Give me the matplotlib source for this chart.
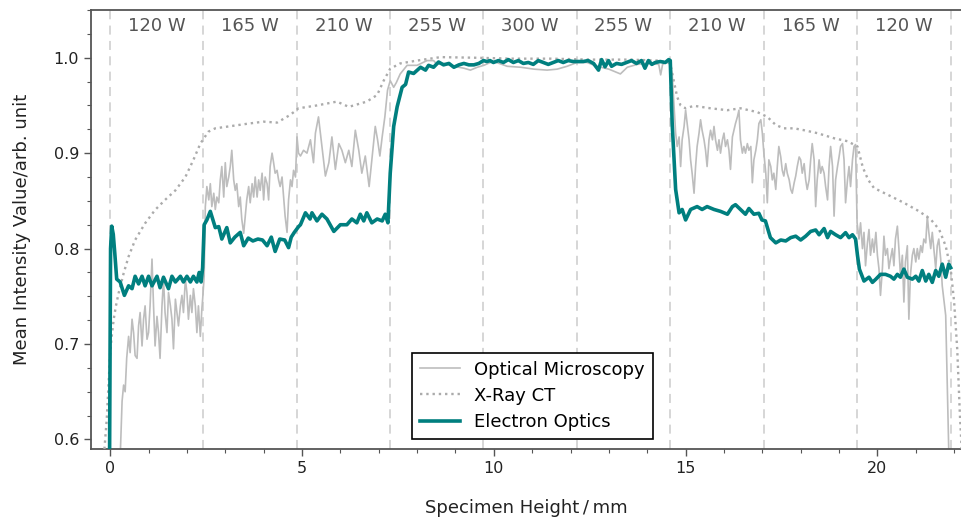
import numpy as np
import matplotlib
matplotlib.use("Agg")
import matplotlib.pyplot as plt
from matplotlib.ticker import MultipleLocator

# ---------------- data ----------------
eo_x = [-0.02, 0.01, 0.04, 0.08, 0.12, 0.17, 0.26, 0.37, 0.48, 0.57, 0.65, 0.74, 0.83, 0.91, 1.00,
        1.09, 1.22, 1.30, 1.39, 1.52, 1.61, 1.70, 1.83, 1.91, 2.00, 2.09, 2.17, 2.26, 2.32, 2.37,
        2.41, 2.45, 2.52, 2.61, 2.74, 2.83, 2.91, 3.04, 3.13, 3.25, 3.39, 3.48, 3.60, 3.72, 3.85,
        3.97, 4.09, 4.20, 4.30, 4.42, 4.55, 4.65, 4.72, 4.80, 4.91, 4.96, 5.09, 5.21, 5.26, 5.39,
        5.52, 5.65, 5.83, 6.00, 6.17, 6.30, 6.43, 6.52, 6.61, 6.69, 6.82, 6.96, 7.09, 7.17, 7.24,
        7.30, 7.39, 7.48, 7.61, 7.70, 7.78, 7.91, 8.09, 8.22, 8.30, 8.43, 8.56, 8.69, 8.83, 8.96,
        9.09, 9.22, 9.35, 9.48, 9.61, 9.73, 9.82, 9.90, 9.99, 10.12, 10.25, 10.38, 10.51, 10.64,
        10.77, 10.90, 11.03, 11.16, 11.29, 11.42, 11.55, 11.68, 11.81, 11.94, 12.07, 12.20, 12.33,
        12.46, 12.60, 12.73, 12.81, 12.90, 12.99, 13.07, 13.20, 13.33, 13.46, 13.59, 13.72, 13.85,
        13.94, 14.03, 14.12, 14.21, 14.34, 14.47, 14.56, 14.60, 14.65, 14.74, 14.83, 14.91, 15.00,
        15.13, 15.30, 15.43, 15.56, 15.74, 15.91, 16.09, 16.22, 16.30, 16.43, 16.56, 16.65, 16.78,
        16.91, 16.99, 17.08, 17.21, 17.35, 17.48, 17.61, 17.74, 17.87, 18.00, 18.13, 18.26, 18.39,
        18.48, 18.61, 18.70, 18.78, 18.91, 19.04, 19.17, 19.26, 19.35, 19.43, 19.48, 19.53, 19.65,
        19.78, 19.87, 19.96, 20.08, 20.21, 20.34, 20.43, 20.52, 20.60, 20.69, 20.78, 20.91, 21.00,
        21.08, 21.17, 21.26, 21.34, 21.43, 21.52, 21.60, 21.69, 21.78, 21.86, 21.91]
eo_y = [0.550, 0.800, 0.8235, 0.815, 0.795, 0.768, 0.765, 0.751, 0.761, 0.758, 0.771, 0.763, 0.771, 0.761, 0.771,
        0.761, 0.771, 0.759, 0.770, 0.758, 0.771, 0.765, 0.771, 0.765, 0.771, 0.765, 0.771, 0.765, 0.775, 0.765,
        0.780, 0.825, 0.830, 0.839, 0.822, 0.823, 0.810, 0.822, 0.806, 0.812, 0.817, 0.803, 0.811, 0.808, 0.810,
        0.809, 0.803, 0.812, 0.797, 0.810, 0.809, 0.801, 0.812, 0.817, 0.823, 0.825, 0.8375, 0.831, 0.8375, 0.829,
        0.836, 0.831, 0.818, 0.825, 0.825, 0.831, 0.827, 0.836, 0.829, 0.8375, 0.827, 0.831, 0.829, 0.836, 0.827,
        0.879, 0.928, 0.9485, 0.969, 0.972, 0.985, 0.9835, 0.990, 0.987, 0.992, 0.990, 0.9955, 0.9925, 0.994, 0.990,
        0.9925, 0.994, 0.9925, 0.9925, 0.994, 0.997, 0.996, 0.997, 0.995, 0.997, 0.995, 0.998, 0.995, 0.997,
        0.994, 0.995, 0.993, 0.997, 0.995, 0.993, 0.995, 0.997, 0.995, 0.997, 0.996, 0.996, 0.996,
        0.997, 0.994, 0.987, 0.998, 0.9905, 0.997, 0.991, 0.994, 0.993, 0.995, 0.997, 0.994, 0.997,
        0.989, 0.997, 0.993, 0.995, 0.996, 0.995, 0.998, 0.997, 0.931, 0.862, 0.8375, 0.841, 0.830,
        0.841, 0.844, 0.841, 0.844, 0.841, 0.839, 0.836, 0.844, 0.846, 0.841, 0.836, 0.842, 0.836,
        0.837, 0.830, 0.829, 0.8115, 0.806, 0.809, 0.808, 0.8115, 0.813, 0.809, 0.813, 0.818, 0.8195,
        0.8145, 0.821, 0.8115, 0.818, 0.8145, 0.8115, 0.8167, 0.8115, 0.8145, 0.810, 0.793, 0.7785, 0.766,
        0.770, 0.7646, 0.768, 0.773, 0.773, 0.771, 0.768, 0.773, 0.770, 0.7785, 0.770, 0.768, 0.771,
        0.766, 0.777, 0.766, 0.773, 0.7646, 0.777, 0.771, 0.7837, 0.770, 0.7837, 0.780]

om_x = [0.26, 0.31, 0.35, 0.39, 0.43, 0.48, 0.52, 0.57, 0.61, 0.65, 0.70, 0.74, 0.78, 0.83, 0.87,
        0.91, 0.96, 1.00, 1.04, 1.09, 1.13, 1.17, 1.22, 1.26, 1.30, 1.35, 1.39, 1.43, 1.48, 1.52,
        1.57, 1.61, 1.65, 1.70, 1.74, 1.78, 1.83, 1.87, 1.91, 1.96, 2.00, 2.04, 2.09, 2.13, 2.17,
        2.22, 2.26, 2.30, 2.35, 2.39, 2.41, 2.45, 2.48, 2.52, 2.57, 2.61, 2.65, 2.70, 2.74, 2.78,
        2.83, 2.87, 2.91, 2.96, 3.00, 3.04, 3.09, 3.13, 3.17, 3.22, 3.26, 3.30, 3.35, 3.39, 3.43,
        3.48, 3.52, 3.56, 3.61, 3.65, 3.70, 3.74, 3.78, 3.83, 3.87, 3.91, 3.96, 4.00, 4.04, 4.09,
        4.13, 4.17, 4.22, 4.26, 4.30, 4.35, 4.39, 4.43, 4.48, 4.52, 4.56, 4.61, 4.65, 4.70, 4.74,
        4.78, 4.83, 4.87, 4.91, 4.96, 5.04, 5.13, 5.22, 5.30, 5.35, 5.43, 5.52, 5.61, 5.70, 5.78,
        5.87, 5.96, 6.04, 6.13, 6.22, 6.30, 6.39, 6.48, 6.56, 6.65, 6.75, 6.83, 6.91, 6.97, 7.03,
        7.09, 7.16, 7.23, 7.30, 7.39, 7.46, 7.56, 7.74, 8.00, 8.26, 8.43, 8.52, 8.70, 8.96, 9.22,
        9.39, 9.57, 9.74, 9.91, 10.00, 10.35, 10.70, 11.05, 11.39, 11.65, 11.91, 12.17, 12.43, 12.69,
        13.00, 13.30, 13.48, 13.74, 14.00, 14.30, 14.35, 14.40, 14.56, 14.60, 14.65, 14.74, 14.78,
        14.83, 14.87, 14.91, 14.96, 15.00, 15.04, 15.09, 15.13, 15.17, 15.22, 15.26, 15.30, 15.35,
        15.39, 15.43, 15.48, 15.52, 15.56, 15.61, 15.65, 15.70, 15.74, 15.78, 15.83, 15.87, 15.91,
        15.96, 16.00, 16.04, 16.09, 16.13, 16.17, 16.22, 16.26, 16.30, 16.35, 16.39, 16.43, 16.48,
        16.52, 16.56, 16.61, 16.65, 16.70, 16.74, 16.78, 16.83, 16.87, 16.91, 16.96, 17.00, 17.04,
        17.09, 17.13, 17.17, 17.22, 17.26, 17.30, 17.35, 17.39, 17.43, 17.48, 17.52, 17.56, 17.61,
        17.65, 17.70, 17.74, 17.78, 17.83, 17.87, 17.91, 17.96, 18.00, 18.04, 18.09, 18.13, 18.17,
        18.22, 18.26, 18.30, 18.35, 18.39, 18.43, 18.48, 18.52, 18.56, 18.61, 18.65, 18.70, 18.74,
        18.78, 18.83, 18.87, 18.91, 18.96, 19.00, 19.04, 19.09, 19.13, 19.17, 19.22, 19.26, 19.30,
        19.35, 19.39, 19.43, 19.47, 19.52, 19.56, 19.61, 19.65, 19.69, 19.74, 19.78, 19.82, 19.87,
        19.91, 19.96, 20.00, 20.04, 20.08, 20.13, 20.17, 20.21, 20.26, 20.30, 20.34, 20.39, 20.43,
        20.47, 20.52, 20.56, 20.60, 20.65, 20.69, 20.73, 20.78, 20.82, 20.86, 20.91, 20.95, 21.00,
        21.04, 21.08, 21.13, 21.17, 21.21, 21.26, 21.30, 21.34, 21.39, 21.43, 21.47, 21.52, 21.56,
        21.60, 21.65, 21.69, 21.73, 21.78, 21.82, 21.87]
om_y = [0.580, 0.640, 0.657, 0.650, 0.685, 0.708, 0.691, 0.726, 0.712, 0.688, 0.685, 0.719, 0.733, 0.698, 0.726,
        0.740, 0.705, 0.712, 0.740, 0.789, 0.740, 0.698, 0.729, 0.712, 0.685, 0.740, 0.768, 0.733, 0.712, 0.754,
        0.740, 0.726, 0.695, 0.747, 0.733, 0.719, 0.740, 0.751, 0.733, 0.768, 0.754, 0.726, 0.751, 0.733, 0.758,
        0.740, 0.712, 0.740, 0.708, 0.737, 0.747, 0.771, 0.844, 0.865, 0.851, 0.868, 0.844, 0.858, 0.841, 0.854,
        0.848, 0.872, 0.886, 0.854, 0.890, 0.865, 0.875, 0.886, 0.903, 0.872, 0.861, 0.868, 0.844, 0.854, 0.831,
        0.816, 0.834, 0.851, 0.865, 0.848, 0.868, 0.854, 0.875, 0.854, 0.872, 0.861, 0.879, 0.851, 0.875, 0.868,
        0.851, 0.886, 0.900, 0.890, 0.879, 0.882, 0.872, 0.865, 0.875, 0.854, 0.834, 0.817, 0.851, 0.872, 0.865,
        0.882, 0.875, 0.917, 0.900, 0.897, 0.903, 0.900, 0.914, 0.890, 0.921, 0.938, 0.907, 0.876, 0.890, 0.917,
        0.883, 0.910, 0.903, 0.890, 0.903, 0.886, 0.924, 0.903, 0.879, 0.897, 0.865, 0.897, 0.928, 0.914, 0.897,
        0.917, 0.938, 0.966, 0.976, 0.969, 0.974, 0.983, 0.992, 0.992, 0.997, 0.997, 0.993, 0.994, 0.991, 0.989,
        0.987, 0.990, 0.992, 0.995, 0.996, 0.991, 0.990, 0.988, 0.987, 0.988, 0.991, 0.995, 0.995, 0.991,
        0.988, 0.983, 0.990, 0.993, 0.994, 0.993, 0.982, 0.993, 0.997, 0.994, 0.983, 0.921, 0.907,
        0.917, 0.886, 0.914, 0.928, 0.945, 0.931, 0.914, 0.893, 0.879, 0.858, 0.886, 0.907, 0.921,
        0.935, 0.924, 0.914, 0.903, 0.886, 0.914, 0.924, 0.914, 0.928, 0.914, 0.903, 0.914, 0.900,
        0.914, 0.921, 0.907, 0.914, 0.903, 0.883, 0.917, 0.924, 0.931, 0.938, 0.945, 0.914, 0.900,
        0.907, 0.900, 0.910, 0.903, 0.907, 0.869, 0.893, 0.903, 0.914, 0.931, 0.935, 0.921, 0.900,
        0.879, 0.848, 0.893, 0.886, 0.872, 0.879, 0.862, 0.886, 0.907, 0.896, 0.882, 0.876, 0.889,
        0.879, 0.872, 0.862, 0.858, 0.869, 0.876, 0.886, 0.896, 0.893, 0.879, 0.889, 0.872, 0.862,
        0.872, 0.893, 0.910, 0.893, 0.844, 0.872, 0.893, 0.879, 0.886, 0.879, 0.865, 0.851, 0.886,
        0.907, 0.886, 0.834, 0.872, 0.886, 0.896, 0.907, 0.910, 0.893, 0.848, 0.872, 0.886, 0.865,
        0.893, 0.907, 0.909, 0.827, 0.810, 0.827, 0.800, 0.817, 0.782, 0.806, 0.820, 0.793, 0.810,
        0.796, 0.817, 0.793, 0.779, 0.751, 0.779, 0.813, 0.793, 0.800, 0.779, 0.789, 0.800, 0.782,
        0.810, 0.8235, 0.800, 0.772, 0.793, 0.744, 0.786, 0.803, 0.726, 0.772, 0.793, 0.800, 0.786,
        0.800, 0.789, 0.803, 0.796, 0.810, 0.806, 0.834, 0.817, 0.800, 0.817, 0.800, 0.779, 0.803,
        0.810, 0.789, 0.761, 0.747, 0.730, 0.660, 0.570]

ct_x = [-0.15, -0.09, -0.04, 0.00, 0.04, 0.09, 0.15, 0.22, 0.35, 0.48, 0.65, 0.91, 1.17, 1.43,
        1.70, 1.96, 2.17, 2.35, 2.56, 2.74, 3.09, 3.61, 4.00, 4.35, 4.69, 4.91, 5.39, 5.91, 6.22,
        6.69, 6.96, 7.13, 7.30, 7.56, 8.00, 8.61, 9.48, 10.5, 11.5, 12.5, 13.5, 14.3, 14.6, 14.69,
        14.78, 14.87, 15.00, 15.22, 15.65, 16.09, 16.43, 16.87, 17.13, 17.35, 17.56, 17.83, 18.09,
        18.43, 18.87, 19.22, 19.48, 19.62, 19.76, 19.91, 20.26, 20.69, 21.09, 21.39, 21.61, 21.78,
        21.91, 22.00, 22.08, 22.15, 22.21]
ct_y = [0.590, 0.621, 0.660, 0.691, 0.708, 0.7255, 0.740, 0.7534, 0.774, 0.7917, 0.809, 0.8265, 0.8405, 0.851,
        0.861, 0.875, 0.893, 0.910, 0.9225, 0.926, 0.928, 0.931, 0.933, 0.932, 0.940, 0.947, 0.950, 0.954, 0.9485,
        0.954, 0.961, 0.976, 0.9885, 0.994, 0.997, 1.0006, 1.000, 0.999, 0.999, 0.998, 0.998, 0.997, 0.994, 0.976,
        0.959, 0.950, 0.947, 0.9496, 0.947, 0.945, 0.947, 0.943, 0.938, 0.9295, 0.926, 0.926, 0.924,
        0.921, 0.9156, 0.9125, 0.907, 0.885, 0.872, 0.8635, 0.8566, 0.848, 0.839, 0.8306, 0.820, 0.8027,
        0.7785, 0.744, 0.695, 0.626, 0.580]

boundaries = [0.0, 2.43, 4.87, 7.30, 9.73, 12.16, 14.60, 17.04, 19.47, 21.91]
powers = ["120 W", "165 W", "210 W", "255 W", "300 W", "255 W", "210 W", "165 W", "120 W"]

# ---------------- plot ----------------
plt.rcParams['font.family'] = ['DejaVu Sans']
fig = plt.figure(figsize=(9.62, 5.2), dpi=100)
ax = fig.add_axes([0.0946, 0.1365, 0.9060, 0.8443])

for b in boundaries:
    ax.axvline(b, color='#d3d3d3', lw=1.3, ls=(0, (5, 3.5)), zorder=1)

ax.plot(om_x, om_y, color='#bdbdbd', lw=1.2, label='Optical Microscopy', zorder=2)
ax.plot(ct_x, ct_y, color='#ababab', lw=1.7, ls=':', label='X-Ray CT', zorder=3)
ax.plot(eo_x, eo_y, color='#007f7f', lw=2.6, label='Electron Optics', zorder=4,
        solid_joinstyle='round')

for i, p in enumerate(powers):
    xc = 0.5 * (boundaries[i] + boundaries[i + 1])
    ax.text(xc, 1.0337, p, ha='center', va='center', fontsize=13, color='#555555')

ax.set_xlim(-0.5, 22.22)
ax.set_ylim(0.59, 1.05)
ax.xaxis.set_major_locator(MultipleLocator(5))
ax.xaxis.set_minor_locator(MultipleLocator(1))
ax.yaxis.set_major_locator(MultipleLocator(0.1))
ax.yaxis.set_minor_locator(MultipleLocator(0.025))
ax.tick_params(which='major', length=5, width=1.0, color='#555555', labelsize=11.5,
               labelcolor='#222222', direction='out')
ax.tick_params(which='minor', length=3, width=0.8, color='#555555', direction='out')
ax.set_yticks([0.6, 0.7, 0.8, 0.9, 1.0])
ax.set_yticklabels(['0.6', '0.7', '0.8', '0.9', '1.0'])

for s in ['left', 'bottom', 'top']:
    ax.spines[s].set_color('#555555')
    ax.spines[s].set_linewidth(1.3)
ax.spines['right'].set_visible(False)

ax.set_xlabel('Specimen Height\u2009/\u2009mm', fontsize=13, color='#222222', labelpad=17)
ax.set_ylabel('Mean Intensity Value/arb. unit', fontsize=13, color='#222222', labelpad=16)

leg = ax.legend(loc='lower left', bbox_to_anchor=(0.3685, 0.0228), fontsize=13,
                fancybox=False, framealpha=1.0, edgecolor='black', borderpad=0.45,
                handlelength=2.2, labelspacing=0.45, borderaxespad=0.0)
leg.get_frame().set_linewidth(1.2)

fig.savefig('out.png', dpi=100)
